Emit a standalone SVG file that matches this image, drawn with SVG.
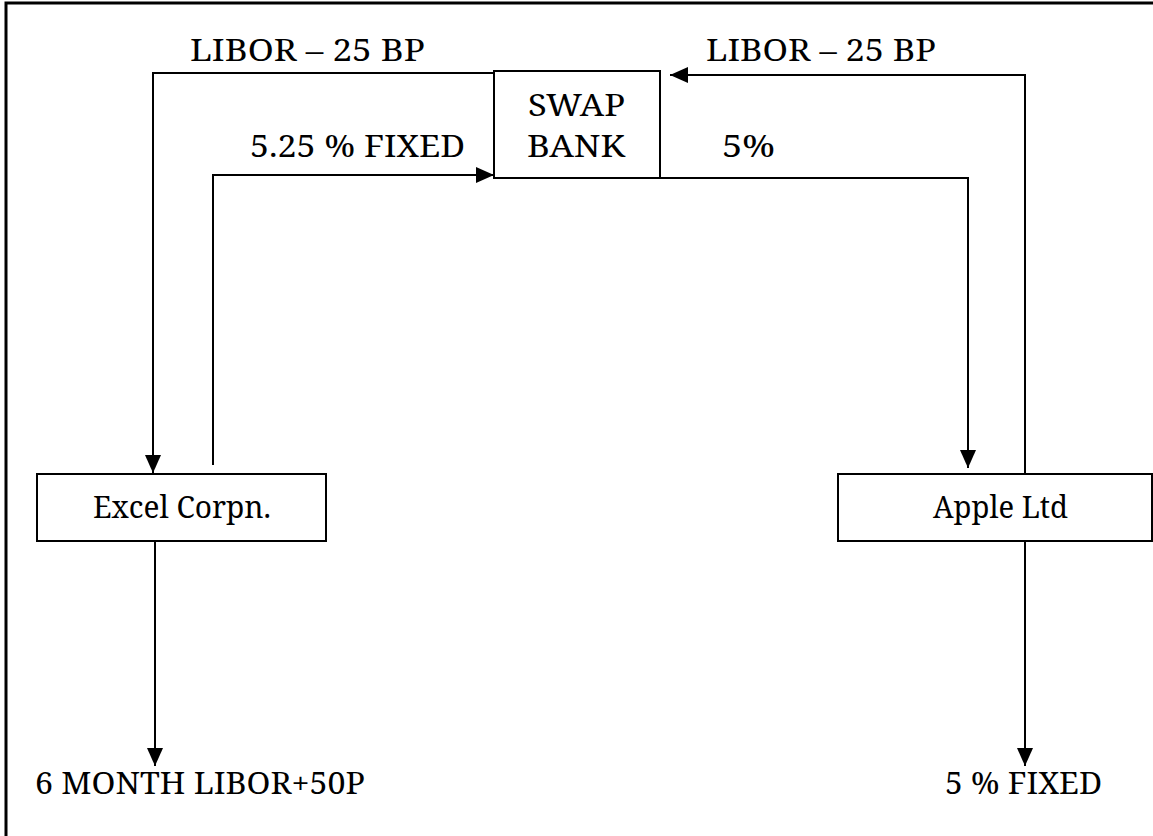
<svg xmlns="http://www.w3.org/2000/svg" width="1153" height="836" viewBox="0 0 1153 836">
<style>
.t{font-family:'Noto Serif','DejaVu Serif',serif;font-size:30px;fill:#000}
.box{fill:#fff;stroke:#000;stroke-width:2}
.ln{fill:none;stroke:#000;stroke-width:2}
.frame{fill:none;stroke:#000;stroke-width:3}
</style>
<defs>
<marker id="ah" markerUnits="userSpaceOnUse" markerWidth="18" markerHeight="16" viewBox="0 0 18 16" refX="18" refY="8" orient="auto">
<path d="M0,0 L18,8 L0,16 Z" fill="#000"/>
</marker>
</defs>
<rect width="1153" height="836" fill="#fff"/>
<path class="frame" d="M6,836 V3 H1153"/>
<g id="connectors">
<path class="ln" d="M494,73 H153 V473" marker-end="url(#ah)"/>
<path class="ln" d="M213,465 V175 H494" marker-end="url(#ah)"/>
<path class="ln" d="M660,178 H968 V468" marker-end="url(#ah)"/>
<path class="ln" d="M1025,484 V75 H670" marker-end="url(#ah)"/>
<path class="ln" d="M155,541 V766" marker-end="url(#ah)"/>
<path class="ln" d="M1025,541 V766" marker-end="url(#ah)"/>
<text class="t" x="190" y="61" textLength="235" lengthAdjust="spacingAndGlyphs">LIBOR – 25 BP</text>
<text class="t" x="706" y="61" textLength="230" lengthAdjust="spacingAndGlyphs">LIBOR – 25 BP</text>
<text class="t" x="250" y="157" textLength="215" lengthAdjust="spacingAndGlyphs">5.25 % FIXED</text>
<text class="t" x="722" y="157" textLength="53" lengthAdjust="spacingAndGlyphs">5%</text>
</g>
<g id="swap-bank">
<rect class="box" x="494" y="71" width="166" height="107"/>
<text class="t" x="528" y="116" textLength="97" lengthAdjust="spacingAndGlyphs">SWAP</text>
<text class="t" x="527" y="157" textLength="98" lengthAdjust="spacingAndGlyphs">BANK</text>
</g>
<g id="excel">
<rect class="box" x="37" y="474" width="289" height="67"/>
<text class="t" x="93" y="518" textLength="178" lengthAdjust="spacingAndGlyphs">Excel Corpn.</text>
</g>
<g id="apple">
<rect class="box" x="838" y="474" width="314" height="67"/>
<text class="t" x="933" y="518" textLength="135" lengthAdjust="spacingAndGlyphs">Apple Ltd</text>
</g>
<g id="excel-out">
<text class="t" x="35" y="794" textLength="330" lengthAdjust="spacingAndGlyphs">6 MONTH LIBOR+50P</text>
</g>
<g id="apple-out">
<text class="t" x="945" y="794" textLength="157" lengthAdjust="spacingAndGlyphs">5 % FIXED</text>
</g>
</svg>
